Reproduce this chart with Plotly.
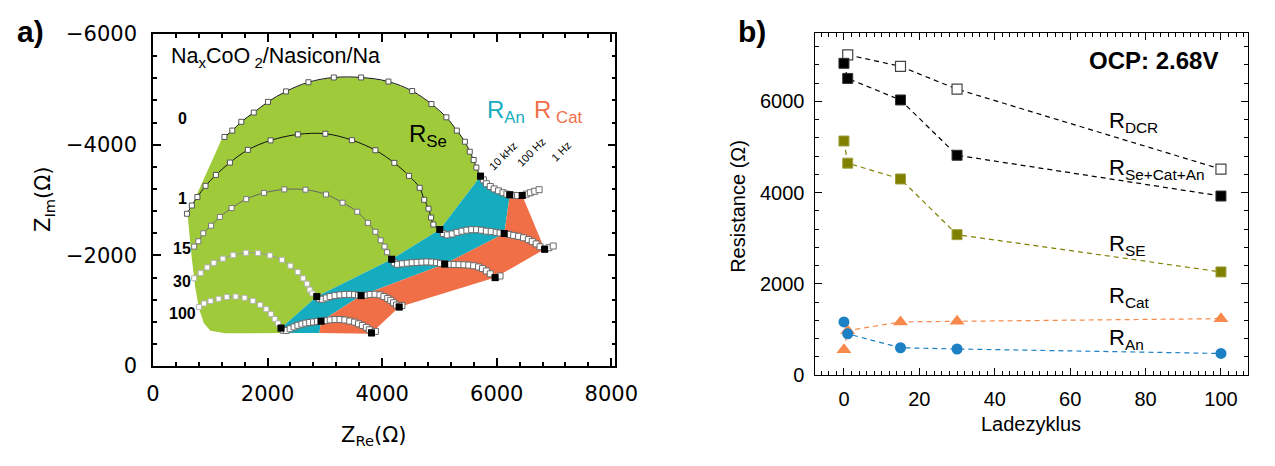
import plotly.graph_objects as go

# ---------------- panel a: Nyquist data (Z_Re, Z_Im in Ohm) ----------------
cycle_labels = ["0", "1", "15", "30", "100"]

# fitted semicircle points (high-frequency arc, R_Se)
arc0_re = [1247, 1384, 1542, 1759, 2007, 2321, 2713, 3156, 3633, 4110, 4524, 4860, 5121, 5303, 5444, 5529, 5597, 5644]
arc0_im = [-4141, -4256, -4415, -4582, -4775, -4964, -5130, -5216, -5216, -5142, -4971, -4736, -4496, -4256, -4055, -3874, -3725, -3588]
arc1_re = [593, 678, 775, 917, 1099, 1343, 1656, 2053, 2530, 3008, 3473, 3882, 4212, 4468, 4655, 4734, 4809, 4853, 4894]
arc1_im = [-2753, -2902, -3056, -3257, -3455, -3678, -3908, -4079, -4187, -4199, -4084, -3901, -3673, -3438, -3222, -3005, -2845, -2684, -2559]
arc15_re = [719, 792, 878, 1014, 1167, 1372, 1627, 1939, 2292, 2662, 3020, 3309, 3565, 3752, 3882, 3974, 4042, 4086]
arc15_im = [-2160, -2256, -2400, -2537, -2696, -2856, -3017, -3130, -3193, -3188, -3102, -2953, -2790, -2588, -2427, -2273, -2160, -2057]
arc30_re = [719, 832, 946, 1060, 1218, 1401, 1622, 1832, 2041, 2253, 2399, 2527, 2621, 2689, 2735, 2781]
arc30_im = [-1587, -1680, -1783, -1865, -1942, -2005, -2048, -2041, -1999, -1920, -1813, -1699, -1585, -1488, -1381, -1313]
arc100_re = [804, 889, 1005, 1145, 1287, 1443, 1598, 1742, 1871, 1977, 2057, 2125, 2181]
arc100_im = [-1068, -1131, -1174, -1217, -1248, -1256, -1234, -1179, -1106, -1028, -939, -850, -771]

# low-frequency tails (10 kHz ... 1 Hz)
tail0_re = [5717, 5768, 5819, 5887, 5955, 6032, 6109, 6177, 6228, 6296, 6364, 6445, 6518, 6586, 6663, 6739]
tail0_im = [-3433, -3365, -3296, -3245, -3202, -3167, -3133, -3108, -3096, -3085, -3082, -3085, -3108, -3133, -3159, -3188]
tail1_re = [5006, 5069, 5138, 5223, 5308, 5393, 5478, 5563, 5649, 5734, 5819, 5904, 5990, 6058, 6131, 6211, 6296, 6381, 6467, 6552, 6620, 6688, 6756, 6836, 6910, 6986]
tail1_im = [-2468, -2396, -2371, -2388, -2417, -2439, -2456, -2465, -2465, -2456, -2439, -2430, -2417, -2405, -2396, -2379, -2362, -2345, -2319, -2285, -2250, -2208, -2156, -2113, -2139, -2170]
tail15_re = [4166, 4217, 4269, 4354, 4439, 4524, 4609, 4695, 4780, 4865, 4950, 5018, 5092, 5172, 5257, 5342, 5427, 5512, 5597, 5683, 5751, 5819, 5887, 5972, 6058]
tail15_im = [-1930, -1865, -1839, -1848, -1860, -1868, -1873, -1879, -1882, -1879, -1870, -1856, -1844, -1839, -1836, -1834, -1831, -1825, -1813, -1791, -1762, -1719, -1667, -1599, -1628]
tail30_re = [2859, 2905, 2957, 3025, 3093, 3178, 3263, 3348, 3434, 3519, 3587, 3633, 3706, 3791, 3876, 3962, 4030, 4098, 4149, 4200, 4251, 4298, 4345]
tail30_im = [-1256, -1214, -1208, -1231, -1256, -1274, -1286, -1294, -1296, -1291, -1280, -1274, -1282, -1294, -1297, -1286, -1256, -1222, -1188, -1145, -1102, -1068, -1094]
tail100_re = [2236, 2275, 2326, 2394, 2462, 2530, 2599, 2667, 2735, 2803, 2871, 2934, 3007, 3093, 3178, 3263, 3348, 3434, 3519, 3587, 3655, 3724, 3775, 3814, 3882]
tail100_im = [-686, -648, -644, -674, -708, -737, -759, -776, -788, -797, -806, -811, -823, -835, -842, -842, -833, -814, -794, -764, -734, -699, -656, -600, -627]

# fit boundaries per cycle (0, 1, 15, 30, 100): end of R_Se, R_An and R_Cat
se_end_re = [5717, 5006, 4166, 2859, 2236]
se_end_im = [-3433, -2468, -1930, -1256, -686]
an_end_re = [6228, 6131, 5092, 3633, 2934]
an_end_im = [-3096, -2396, -1844, -1274, -811]
cat_end_re = [6445, 6836, 5972, 4298, 3814]
cat_end_im = [-3085, -2113, -1599, -1068, -600]

# outline of the shaded R_Se area on the left and along the bottom
se_left_re = [1258, 1002, 889, 804, 736, 678, 634, 605, 1201]
se_left_im = [-593, -639, -776, -1034, -1428, -1942, -2406, -2732, -4104]
base_re = [2292, 2905, 3808]
base_im = [-596, -596, -583]

# ---------------- panel b: resistances vs. charge cycle ----------------
cyc = [0, 1, 15, 30, 100]
cyc_dcr = [1, 15, 30, 100]
r_dcr = [7019, 6765, 6266, 4512]
r_sum = [6833, 6501, 6029, 4817, 3923]
r_se = [5129, 4644, 4297, 3077, 2260]
r_cat = [555, 971, 1164, 1179, 1235]
r_an = [1164, 902, 597, 570, 472]

GREEN = "#9fca3a"
TEAL = "#16acbf"
ORANGE = "#f06f47"
OLIVE = "#7f7f00"
TRI = "#f7894b"
BLUE = "#1b80c4"

W, H = 1275, 466


def px(x, y):
    return x / W, 1 - y / H


fig = go.Figure()

# shaded regions R_Se / R_An / R_Cat
green_re = se_left_re + arc0_re + se_end_re + base_re[:1]
green_im = se_left_im + arc0_im + se_end_im + base_im[:1]
i_b0 = tail0_re.index(an_end_re[0])
i_c0 = tail0_re.index(cat_end_re[0])
teal_re = tail0_re[: i_b0 + 1] + an_end_re[1:] + [base_re[1], base_re[0]] + se_end_re[::-1]
teal_im = tail0_im[: i_b0 + 1] + an_end_im[1:] + [base_im[1], base_im[0]] + se_end_im[::-1]
orange_re = tail0_re[i_b0 : i_c0 + 1] + cat_end_re[1:] + [base_re[2], base_re[1]] + an_end_re[::-1]
orange_im = tail0_im[i_b0 : i_c0 + 1] + cat_end_im[1:] + [base_im[2], base_im[1]] + an_end_im[::-1]

for xs, ys, col in [(green_re, green_im, GREEN), (teal_re, teal_im, TEAL), (orange_re, orange_im, ORANGE)]:
    fig.add_trace(go.Scatter(x=xs, y=ys, fill="toself", fillcolor=col, mode="none",
                             hoverinfo="skip", showlegend=False, xaxis="x", yaxis="y"))

arcs = [(arc0_re, arc0_im, "#111111", "#555555"),
        (arc1_re, arc1_im, "#111111", "#555555"),
        (arc15_re, arc15_im, "#666666", "#777777"),
        (arc30_re, arc30_im, "#9a9a9a", "#b5b5b5"),
        (arc100_re, arc100_im, "#9a9a9a", "#b5b5b5")]
tails = [(tail0_re, tail0_im), (tail1_re, tail1_im), (tail15_re, tail15_im),
         (tail30_re, tail30_im), (tail100_re, tail100_im)]

for (ax_, ay_, lc, mc), (tx, ty) in zip(arcs, tails):
    fig.add_trace(go.Scatter(x=ax_ + tx[:1], y=ay_ + ty[:1], mode="lines+markers",
                             line=dict(color=lc, width=1, shape="spline"),
                             marker=dict(symbol="square", size=5, color="white",
                                         line=dict(color=mc, width=1)),
                             showlegend=False, xaxis="x", yaxis="y"))
    fig.add_trace(go.Scatter(x=tx, y=ty, mode="lines+markers",
                             line=dict(color="#555555", width=1),
                             marker=dict(symbol="square", size=6, color="white",
                                         line=dict(color="#6a6a6a", width=1)),
                             showlegend=False, xaxis="x", yaxis="y"))

fig.add_trace(go.Scatter(x=se_end_re + an_end_re + cat_end_re,
                         y=se_end_im + an_end_im + cat_end_im, mode="markers",
                         marker=dict(symbol="square", size=7, color="black"),
                         showlegend=False, xaxis="x", yaxis="y"))

# ---------------- panel b traces ----------------
dash = "5px,4px"
fig.add_trace(go.Scatter(x=cyc_dcr, y=r_dcr, mode="lines+markers", xaxis="x2", yaxis="y2",
                         line=dict(color="black", width=1.2, dash=dash),
                         marker=dict(symbol="square", size=10, color="white", line=dict(color="#444", width=1.2)),
                         showlegend=False))
fig.add_trace(go.Scatter(x=cyc, y=r_sum, mode="lines+markers", xaxis="x2", yaxis="y2",
                         line=dict(color="black", width=1.2, dash=dash),
                         marker=dict(symbol="square", size=10, color="black", line=dict(color="#333", width=1)),
                         showlegend=False))
fig.add_trace(go.Scatter(x=cyc, y=r_se, mode="lines+markers", xaxis="x2", yaxis="y2",
                         line=dict(color=OLIVE, width=1.2, dash=dash),
                         marker=dict(symbol="square", size=10, color=OLIVE, line=dict(color="#a0a040", width=1)),
                         showlegend=False))
fig.add_trace(go.Scatter(x=cyc, y=r_cat, mode="lines+markers", xaxis="x2", yaxis="y2",
                         line=dict(color=TRI, width=1.2, dash=dash),
                         marker=dict(symbol="triangle-up", size=13, color=TRI),
                         showlegend=False))
fig.add_trace(go.Scatter(x=cyc, y=r_an, mode="lines+markers", xaxis="x2", yaxis="y2",
                         line=dict(color=BLUE, width=1.2, dash=dash),
                         marker=dict(symbol="circle", size=11, color=BLUE),
                         showlegend=False))

A_FONT = "DejaVu Sans, Noto Sans, sans-serif"
B_FONT = "Liberation Sans, Arial, sans-serif"

common = dict(showline=True, linecolor="black", mirror="ticks", ticks="inside",
              showgrid=False, zeroline=False, tickcolor="black")

fig.update_layout(
    width=W, height=H, margin=dict(l=0, r=0, t=0, b=0),
    paper_bgcolor="white", plot_bgcolor="white", showlegend=False,
    xaxis=dict(domain=[149.5 / W, 623 / W], range=[0, 8070], tick0=0, dtick=2000,
               ticklen=8, linewidth=1.5, tickwidth=1.5,
               minor=dict(dtick=400, ticks="inside", ticklen=4, tickcolor="black", tickwidth=1.5),
               tickfont=dict(family=A_FONT, size=21, color="black"), ticklabelstandoff=8,
               anchor="y", **common),
    yaxis=dict(domain=[1 - 373.3 / H, 1 - 23.3 / H], range=[0, -6000], tick0=0, dtick=2000,
               ticklen=8, linewidth=1.5, tickwidth=1.5,
               minor=dict(dtick=400, ticks="inside", ticklen=4, tickcolor="black", tickwidth=1.5),
               tickfont=dict(family=A_FONT, size=21, color="black"), ticklabelstandoff=10,
               anchor="x", **common),
    xaxis2=dict(domain=[827 / W, 1271 / W], range=[-7.8, 107.2], tick0=0, dtick=20,
                ticklen=7, linewidth=1.3, tickwidth=1.3,
                minor=dict(dtick=2, ticks="inside", ticklen=4, tickcolor="black", tickwidth=1),
                tickfont=dict(family=B_FONT, size=20, color="black"), ticklabelstandoff=6,
                anchor="y2", **common),
    yaxis2=dict(domain=[1 - 382.7 / H, 1 - 22 / H], range=[0, 7500], tick0=0, dtick=2000,
                ticklen=7, linewidth=1.3, tickwidth=1.3,
                minor=dict(dtick=400, ticks="inside", ticklen=4, tickcolor="black", tickwidth=1),
                tickfont=dict(family=B_FONT, size=20, color="black"), ticklabelstandoff=5,
                anchor="x2", **common),
)

ann = []


def add_text(text, x, y, size, family, color="black", bold=False, angle=0, xanchor="center", yanchor="middle"):
    if bold:
        text = "<b>" + text + "</b>"
    xp, yp = px(x, y)
    ann.append(dict(text=text, x=xp, y=yp, xref="paper", yref="paper", showarrow=False,
                    xanchor=xanchor, yanchor=yanchor, textangle=angle,
                    font=dict(family=family, size=size, color=color)))


# panel letters
add_text("a)", 24, 21, 30, B_FONT, bold=True)
add_text("b)", 763, 21, 30, B_FONT, bold=True)

# panel a texts
add_text("Na<sub>x</sub>CoO<sub> 2</sub>/Nasicon/Na", 166, 48, 21.5, B_FONT, xanchor="left")
add_text("R<sub>Se</sub>", 410, 130, 24, B_FONT, xanchor="left")
add_text("R<sub>An</sub>", 490, 105, 24, B_FONT, color=TEAL, xanchor="left")
add_text("R<sub> Cat</sub>", 538, 105, 24, B_FONT, color=ORANGE, xanchor="left")
add_text("10 kHz", 508, 152, 11, B_FONT, angle=-45)
add_text("100 Hz", 537, 148, 11, B_FONT, angle=-45)
add_text("1 Hz", 568, 147, 11, B_FONT, angle=-45)
for lab, yy in zip(cycle_labels, [112, 197, 249, 284, 318]):
    add_text(lab, 179.5, yy, 16, B_FONT, bold=True)
add_text("Z<sub>Im</sub>(Ω)", 38, 198, 21, A_FONT, angle=-90)
add_text("Z<sub>Re</sub>(Ω)", 375, 447, 21, A_FONT)

# panel b texts
add_text("OCP: 2.68V", 1242, 51, 24, B_FONT, bold=True, xanchor="right")
add_text("R<sub>DCR</sub>", 1127, 116, 22, B_FONT, xanchor="left")
add_text("R<sub>Se+Cat+An</sub>", 1127, 165, 22, B_FONT, xanchor="left")
add_text("R<sub>SE</sub>", 1127, 246, 22, B_FONT, xanchor="left")
add_text("R<sub>Cat</sub>", 1127, 300, 22, B_FONT, xanchor="left")
add_text("R<sub>An</sub>", 1127, 345, 22, B_FONT, xanchor="left")
add_text("Ladezyklus", 1049, 434, 20, B_FONT)
add_text("Resistance (Ω)", 749, 205, 20, B_FONT, angle=-90)

fig.update_layout(annotations=ann)
fig.write_html("out.html")
